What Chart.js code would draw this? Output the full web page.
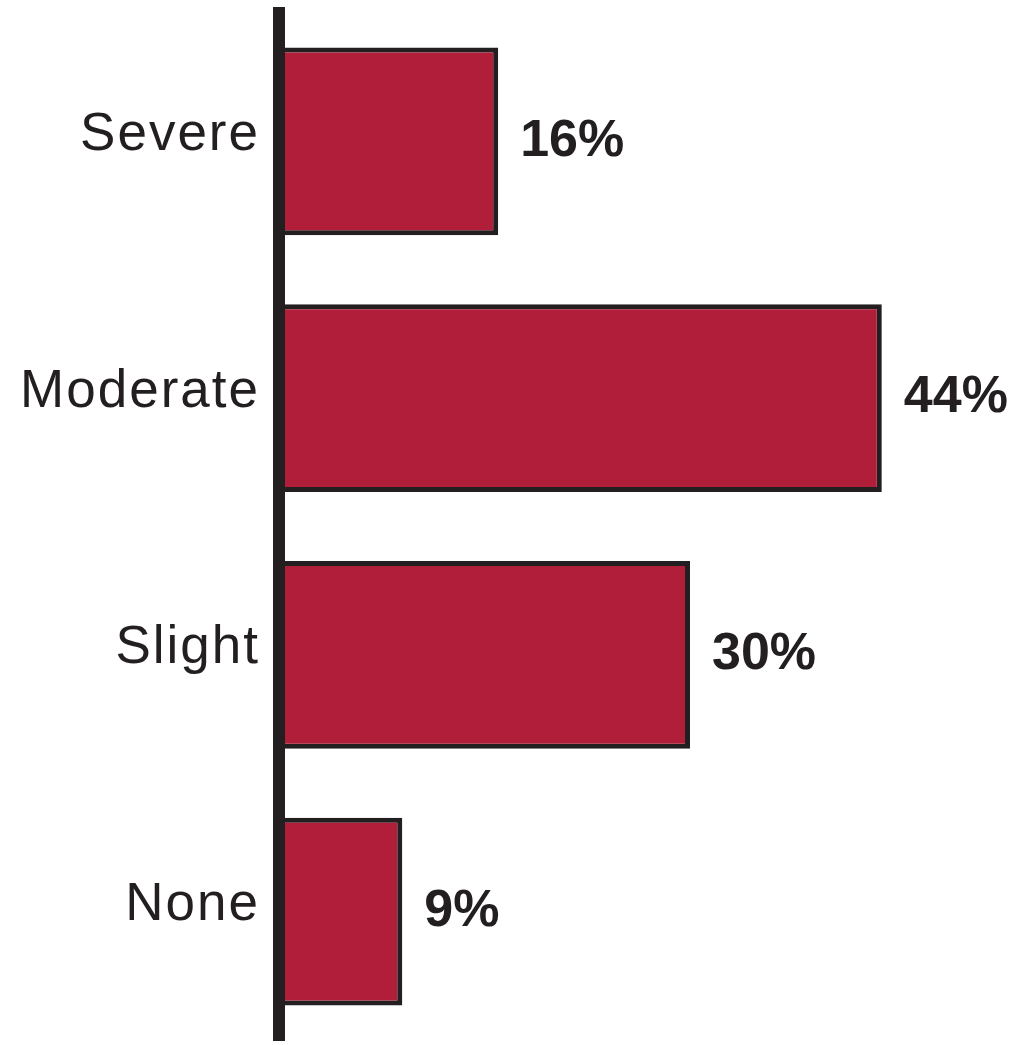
<!DOCTYPE html>
<html>
<head>
<meta charset="utf-8">
<script src="https://cdn.jsdelivr.net/npm/chart.js@4"></script>
<style>
  html, body { margin: 0; padding: 0; background: #fff; }
  #wrap { width: 1022px; height: 1045px; position: relative; }
</style>
</head>
<body>
<div id="wrap"><canvas id="severityChart"></canvas></div>
<script>
const categories = ['Severe', 'Moderate', 'Slight', 'None'];
const percentValues = [16, 44, 30, 9];
const valueLabels = ['16%', '44%', '30%', '9%'];

const barRed = '#B01E3A';
const inkDark = '#231F20';

// a little tracking on the category names, like the printed original
const trackingPlugin = {
    id: 'tracking',
    beforeDraw(chart) {
        chart.ctx.letterSpacing = '2px';
    }
};

// draws the percent next to the end of every bar
const valueLabelPlugin = {
    id: 'valueLabels',
    afterDatasetsDraw(chart) {
        const ctx = chart.ctx;
        const meta = chart.getDatasetMeta(0);
        ctx.save();
        ctx.letterSpacing = '0px';
        ctx.font = 'bold 52px "Liberation Sans", Helvetica, Arial, sans-serif';
        ctx.fillStyle = inkDark;
        ctx.textAlign = 'left';
        ctx.textBaseline = 'middle';
        meta.data.forEach((bar, i) => {
            ctx.fillText(valueLabels[i], bar.x + 22, bar.y);
        });
        ctx.restore();
    }
};

new Chart(document.getElementById('severityChart'), {
    type: 'bar',
    data: {
        labels: categories,
        datasets: [{
            data: percentValues,
            backgroundColor: barRed,
            borderColor: inkDark,
            borderWidth: 5,
            borderSkipped: false,
            barPercentage: 0.732,
            categoryPercentage: 1
        }]
    },
    options: {
        indexAxis: 'y',
        responsive: true,
        maintainAspectRatio: false,
        animation: false,
        layout: {
            padding: { top: 13, bottom: 5, left: 0, right: 58 }
        },
        plugins: {
            legend: { display: false },
            tooltip: { enabled: false }
        },
        scales: {
            x: {
                display: false,
                min: 0,
                max: 50
            },
            y: {
                afterFit(scale) {
                    scale.width = 279;
                    scale.paddingTop = 0;
                    scale.paddingBottom = 0;
                },
                grid: { display: false, drawTicks: false },
                border: { display: true, color: inkDark, width: 12, z: 1 },
                ticks: {
                    color: inkDark,
                    padding: 19,
                    labelOffset: -6,
                    font: { family: '"Liberation Sans", Helvetica, Arial, sans-serif', size: 53 }
                }
            }
        }
    },
    plugins: [trackingPlugin, valueLabelPlugin]
});
</script>
</body>
</html>
